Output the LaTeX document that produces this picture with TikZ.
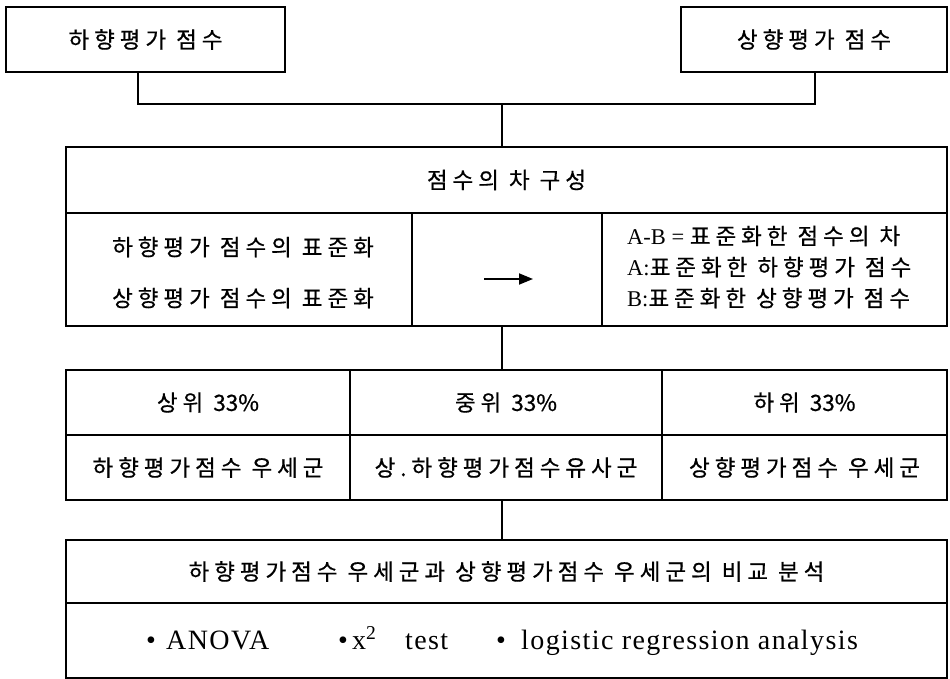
\documentclass[tikz,border=0pt]{standalone}
\usepackage{fontspec}
\setmainfont{Liberation Serif}
\newfontfamily\kr[LetterSpace=22,FakeBold=0.6]{Noto Sans CJK KR}
\newfontfamily\krtight[FakeBold=0.6]{Noto Sans CJK KR}
\newfontfamily\enspaced[LetterSpace=5]{Liberation Serif}
\usetikzlibrary{arrows.meta}
\tikzset{
  box/.style={draw, line width=1.3pt, rectangle, inner sep=0pt, anchor=center},
  krtext/.style={font=\kr\fontsize{22.5}{26}\selectfont, inner sep=0pt},
  entext/.style={font=\enspaced\fontsize{28}{32}\selectfont, inner sep=0pt, anchor=base west},
  bullet/.style={font=\fontsize{28}{32}\selectfont, inner sep=0pt, anchor=base},
  link/.style={line width=1.3pt},
}
\begin{document}
\begin{tikzpicture}[x=1pt,y=-1pt]
\useasboundingbox (0,0) rectangle (950,679);
% top boxes
\node[box, minimum width=279pt, minimum height=65pt] (A) at (145.5,39.5) {};
\node[krtext] (At) at (A.center) {하향평가 점수};
\node[box, minimum width=266pt, minimum height=65pt] (B) at (814,39.5) {};
\node[krtext] (Bt) at (B.center) {상향평가 점수};
% big box
\node[box, minimum width=881pt, minimum height=66pt] (H) at (506.5,180) {};
\node[krtext] (Ht) at (H.center) {점수의 차 구성};
\node[box, minimum width=346pt, minimum height=113pt] (L) at (239,269.5) {};
\node[box, minimum width=190pt, minimum height=113pt] (M) at (507,269.5) {};
\node[box, minimum width=345pt, minimum height=113pt] (R) at (774.5,269.5) {};
\node[krtext] (L1) at (243,247) {하향평가 점수의 표준화};
\node[krtext] (L2) at (243,298) {상향평가 점수의 표준화};
\coordinate (arS) at (484,279);
\coordinate (arE) at (533,279);
\draw[line width=1.8pt, -{Triangle[length=14pt,width=11pt]}] (arS) -- (arE);
\node[krtext, anchor=west] (R1) at (627,236) {\rmfamily A-B = \kr 표준화한 점수의 차};
\node[krtext, anchor=west] (R2) at (627,267) {\rmfamily A:\kr 표준화한 하향평가 점수};
\node[krtext, anchor=west] (R3) at (627,298) {\rmfamily B:\kr 표준화한 상향평가 점수};
% table
\node[box, minimum width=284pt, minimum height=65pt] (T1) at (208,402.5) {};
\node[box, minimum width=312pt, minimum height=65pt] (T2) at (506,402.5) {};
\node[box, minimum width=285pt, minimum height=65pt] (T3) at (804.5,402.5) {};
\node[box, minimum width=284pt, minimum height=65pt] (U1) at (208,467.5) {};
\node[box, minimum width=312pt, minimum height=65pt] (U2) at (506,467.5) {};
\node[box, minimum width=285pt, minimum height=65pt] (U3) at (804.5,467.5) {};
\node[krtext] at (T1.center) {상위 {\krtight 33\%}};
\node[krtext] at (T2.center) {중위 {\krtight 33\%}};
\node[krtext] at (T3.center) {하위 {\krtight 33\%}};
\node[krtext] at (U1.center) {하향평가점수 우세군};
\node[krtext] at (U2.center) {상.하향평가점수유사군};
\node[krtext] at (U3.center) {상향평가점수 우세군};
% bottom box
\node[box, minimum width=881pt, minimum height=63pt] (C) at (506.5,571.5) {};
\node[box, minimum width=881pt, minimum height=75pt] (D) at (506.5,640.5) {};
\node[krtext] at (C.center) {하향평가점수 우세군과 상향평가점수 우세군의 비교 분석};
\node[bullet] (b1) at (151,649) {•};
\node[entext] (e1) at (166,649) {ANOVA};
\node[bullet] (b2) at (343,649) {•};
\node[entext] (e2) at (352,649) {x\textsuperscript{2}};
\node[entext] (e2b) at (405,649) {test};
\node[bullet] (b3) at (501,649) {•};
\node[entext] (e3) at (521,649) {logistic regression analysis};
% connectors
\coordinate (J) at (502,104);
\draw[link] (A.south -| 138,0) |- (J) -| (B.south -| 815,0);
\draw[link] (J) -- (J |- H.north);
\draw[link] (M.south -| J) -- (J |- T2.north);
\draw[link] (U2.south -| J) -- (J |- C.north);
\end{tikzpicture}
\end{document}
